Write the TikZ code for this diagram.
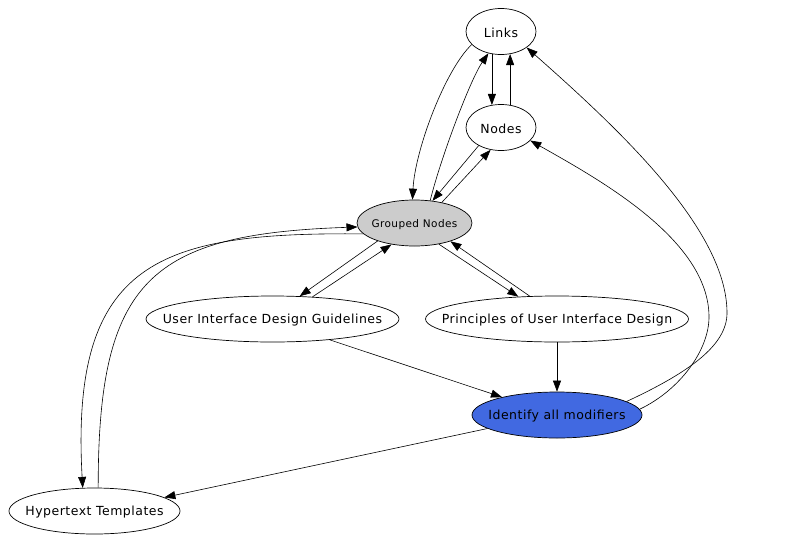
\documentclass[tikz,border=0pt]{standalone}
\usepackage{fontspec}
\setmainfont{DejaVu Sans}[LetterSpace=4]
\usetikzlibrary{shapes.geometric,arrows.meta}
\definecolor{royal}{RGB}{65,105,225}
\definecolor{grp}{RGB}{204,204,204}
\begin{document}
\begin{tikzpicture}[x=1pt,y=-1pt,
  nd/.style={draw,ellipse,inner sep=0pt,line width=0.7pt,minimum height=46pt},
  lbl/.style={font=\fontsize{12.5}{14}\selectfont,inner sep=0pt,yshift=-1.5pt},
  slbl/.style={font=\fontsize{10.5}{12}\selectfont,inner sep=0pt,yshift=-1.5pt},
  ed/.style={line width=0.6pt,-{Triangle[length=11pt,width=8pt]}}]
\useasboundingbox (0,0) rectangle (799,543);
\node[nd,minimum width=70pt,label={[lbl]center:Links}] (L) at (501,31.5) {};
\node[nd,minimum width=70pt,label={[lbl]center:Nodes}] (N) at (501,127.5) {};
\node[nd,minimum width=115pt,fill=grp,label={[slbl]center:Grouped Nodes}] (G) at (414.5,223) {};
\node[nd,minimum width=253pt,label={[lbl]center:User Interface Design Guidelines}] (U) at (272.5,319) {};
\node[nd,minimum width=263pt,label={[lbl]center:Principles of User Interface Design}] (P) at (557,319) {};
\node[nd,minimum width=170pt,fill=royal,label={[lbl]center:Identify all modifiers}] (I) at (557,415) {};
\node[nd,minimum width=171pt,label={[lbl]center:Hypertext Templates}] (H) at (94.5,511) {};
\draw[ed] (L.248) -- (N.112);
\draw[ed] (N.68) -- (L.292);
\draw[ed] (L.204) .. controls (445,70) and (415,150) .. (G.95);
\draw[ed] (G.55) .. controls (440,160) and (470,80) .. (L.240);
\draw[ed] (N.219) -- (G.51);
\draw[ed] (G.37) -- (N.245);
\draw[ed] (G.206) -- (U.40);
\draw[ed] (U.29) -- (G.223);
\draw[ed] (G.319) -- (P.150);
\draw[ed] (P.140) -- (G.333);
\draw[ed] (P.south) -- (I.north);
\draw[ed] (U.340) -- (I.162);
\draw[ed] (I.191) -- (H.11);
\draw[ed] (I.11) .. controls (690,372) and (727,345) .. (727,313) .. controls (727,230) and (620,130) .. (L.328);
\draw[ed] (I.4) .. controls (680,390) and (709,350) .. (709,317) .. controls (709,240) and (600,180) .. (N.336);
\draw[ed] (G.192) .. controls (160,232) and (70,260) .. (H.117);
\draw[ed] (H.81) .. controls (98,280) and (150,234) .. (G.184);
\end{tikzpicture}
\end{document}
